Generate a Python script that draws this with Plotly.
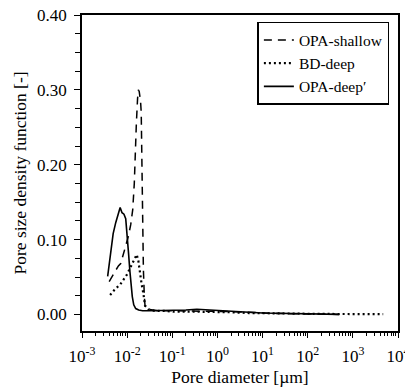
import plotly.graph_objects as go

# OPA-shallow (dashed)
shallow_x = [0.0040, 0.0048, 0.0056, 0.0064, 0.0072, 0.0082, 0.0094, 0.0106, 0.0120, 0.0133,
             0.0144, 0.0150, 0.0160, 0.0170, 0.0177, 0.0185, 0.0198, 0.0205, 0.0212, 0.0220,
             0.0229, 0.0240, 0.0250, 0.028, 0.035, 0.05, 0.1, 0.2, 0.5, 1, 2, 5, 10, 20, 50,
             100, 200, 500]
shallow_y = [0.044, 0.052, 0.060, 0.065, 0.068, 0.080, 0.092, 0.104, 0.120, 0.140,
             0.175, 0.219, 0.255, 0.288, 0.300, 0.298, 0.285, 0.270, 0.190, 0.120,
             0.060, 0.025, 0.010, 0.007, 0.006, 0.005, 0.005, 0.005, 0.005, 0.004, 0.004, 0.003,
             0.002, 0.0015, 0.001, 0.0005, 0.0003, 0.0002]

# BD-deep (dotted)
bd_x = [0.0042, 0.0054, 0.0070, 0.0082, 0.0098, 0.0112, 0.0126, 0.0144, 0.0163, 0.0177,
        0.0193, 0.0210, 0.0229, 0.0249, 0.0295, 0.04, 0.06, 0.1, 0.2, 0.5, 1, 2, 5, 10, 20,
        50, 100, 200, 500, 1000, 2000, 4700]
bd_y = [0.026, 0.034, 0.040, 0.046, 0.053, 0.060, 0.066, 0.073, 0.080, 0.072,
        0.052, 0.040, 0.028, 0.012, 0.007, 0.005, 0.005, 0.004, 0.004, 0.004, 0.003, 0.003,
        0.002, 0.002, 0.0015, 0.001, 0.001, 0.0008, 0.0006, 0.0005, 0.0005, 0.0005]

# OPA-deep' (solid)
deep_x = [0.0037, 0.0042, 0.0049, 0.0056, 0.0063, 0.0070, 0.0077, 0.0085, 0.0093, 0.0101,
          0.0108, 0.0115, 0.0122, 0.0130, 0.0140, 0.0155, 0.018, 0.022, 0.03, 0.05, 0.1, 0.2,
          0.35, 0.6, 1, 2, 5, 10, 20, 50, 100, 200, 500]
deep_y = [0.051, 0.075, 0.108, 0.123, 0.133, 0.143, 0.136, 0.134, 0.128, 0.105,
          0.080, 0.058, 0.040, 0.024, 0.013, 0.008, 0.006, 0.005, 0.005, 0.005, 0.005, 0.006,
          0.007, 0.006, 0.005, 0.004, 0.003, 0.002, 0.0015, 0.001, 0.0005, 0.0003, 0.0002]

x_tick_vals = [1e-3, 1e-2, 1e-1, 1e0, 1e1, 1e2, 1e3, 1e4]
x_tick_text = ["10<sup>-3</sup>", "10<sup>-2</sup>", "10<sup>-1</sup>", "10<sup>0</sup>",
               "10<sup>1</sup>", "10<sup>2</sup>", "10<sup>3</sup>", "10<sup>4</sup>"]
y_tick_vals = [0.0, 0.1, 0.2, 0.3, 0.4]

FONT = "Liberation Serif, Times New Roman, serif"

fig = go.Figure()
fig.add_trace(go.Scatter(x=shallow_x, y=shallow_y, mode="lines", name="OPA-shallow",
                         line=dict(color="black", width=1.5, dash="8px,6px")))
fig.add_trace(go.Scatter(x=bd_x, y=bd_y, mode="lines", name="BD-deep",
                         line=dict(color="black", width=2.2, dash="2px,3px")))
fig.add_trace(go.Scatter(x=deep_x, y=deep_y, mode="lines", name="OPA-deep\u2032",
                         line=dict(color="black", width=1.6)))

minor_x = [m * 10 ** e for e in range(-3, 4) for m in range(2, 10)]

fig.update_layout(
    width=405, height=387, autosize=False,
    margin=dict(l=82, r=7, t=15, b=56, autoexpand=False),
    paper_bgcolor="white", plot_bgcolor="white",
    font=dict(family=FONT, size=16, color="black"),
    showlegend=True,
    legend=dict(x=0.555, y=0.978, xanchor="left", yanchor="top",
                bordercolor="black", borderwidth=1.5, bgcolor="white",
                font=dict(family=FONT, size=15.5), itemwidth=30),
    xaxis=dict(type="log", range=[-3, 4], tickvals=x_tick_vals, ticktext=x_tick_text,
               automargin=False,
               showgrid=False, zeroline=False, showline=True, linecolor="black", linewidth=1.5,
               mirror=True, ticks="outside", ticklen=5, tickwidth=1, tickcolor="black",
               ticklabeloverflow="allow", ticklabelstandoff=4,
               minor=dict(tickvals=minor_x, ticks="outside", ticklen=3, tickcolor="black", showgrid=False),
               title=dict(text="Pore diameter [\u00b5m]", font=dict(family=FONT, size=17.5), standoff=8),
               tickfont=dict(family=FONT, size=17)),
    yaxis=dict(range=[-0.022, 0.40], tickvals=y_tick_vals, tickformat=".2f",
               automargin=False,
               showgrid=False, zeroline=False, showline=True, linecolor="black", linewidth=1.5,
               mirror=True, ticks="outside", ticklen=6, tickwidth=1, tickcolor="black",
               ticklabelstandoff=4,
               minor=dict(dtick=0.025, tick0=0, ticks="outside", ticklen=5, tickcolor="black", showgrid=False),
               title=dict(text="Pore size density function [-]", font=dict(family=FONT, size=17.5), standoff=6),
               tickfont=dict(family=FONT, size=17)),
)

fig.write_html("out.html", config={"displayModeBar": False},
               post_script="document.body.style.margin='0';document.body.style.overflow='hidden';")
